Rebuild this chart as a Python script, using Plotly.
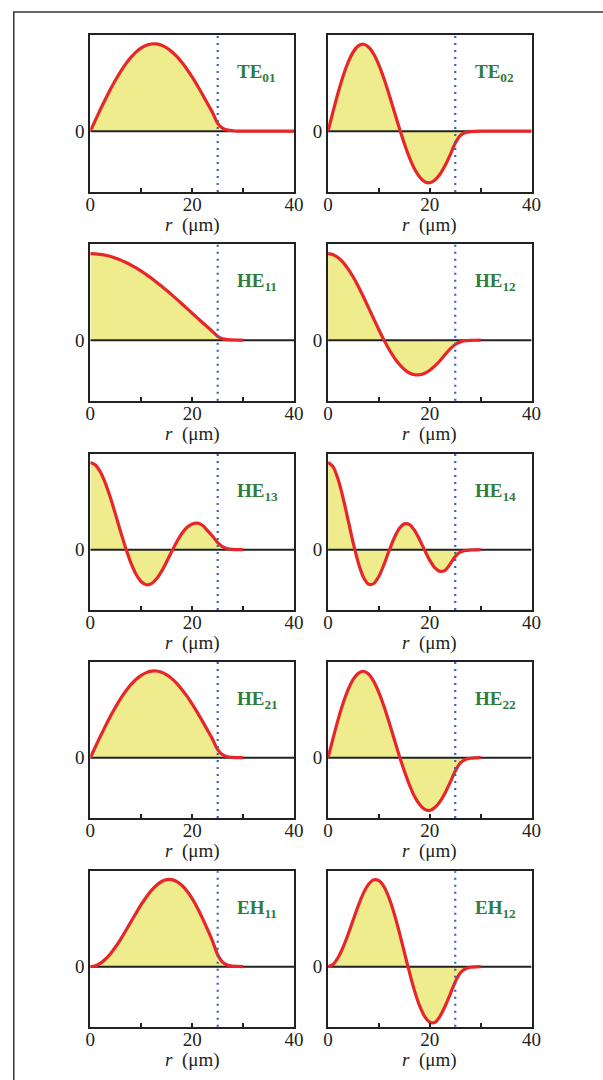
import plotly.graph_objects as go

# radial coordinate (µm)
r_long = [0, 1, 2, 3, 4, 5, 6, 7, 8, 9, 10, 11, 12, 13, 14, 15, 16, 17, 18, 19, 20,
          21, 22, 23, 24, 25, 26, 27, 28, 29, 30, 31, 32, 33, 34, 35, 36, 37, 38, 39, 40]
r_short = [0, 1, 2, 3, 4, 5, 6, 7, 8, 9, 10, 11, 12, 13, 14, 15, 16, 17, 18, 19, 20,
           21, 22, 23, 24, 25, 26, 27, 28, 29, 30]

mode_labels = ["TE<sub>01</sub>", "TE<sub>02</sub>", "HE<sub>11</sub>", "HE<sub>12</sub>",
               "HE<sub>13</sub>", "HE<sub>14</sub>", "HE<sub>21</sub>", "HE<sub>22</sub>",
               "EH<sub>11</sub>", "EH<sub>12</sub>"]

te01 = [0, 0.114, 0.227, 0.335, 0.438, 0.534, 0.622, 0.699, 0.766, 0.820, 0.861, 0.889, 0.902,
        0.903, 0.889, 0.862, 0.822, 0.771, 0.709, 0.638, 0.558, 0.472, 0.380, 0.286, 0.191,
        0.080, 0.028, 0.010, 0.004, 0.001, 0, 0, 0, 0, 0, 0, 0, 0, 0, 0, 0]
te02 = [0, 0.207, 0.403, 0.576, 0.719, 0.824, 0.884, 0.899, 0.868, 0.795, 0.683, 0.542, 0.379,
        0.206, 0.032, -0.131, -0.275, -0.393, -0.475, -0.524, -0.534, -0.506, -0.446, -0.357,
        -0.246, -0.125, -0.045, -0.015, -0.005, -0.002, 0, 0, 0, 0, 0, 0, 0, 0, 0, 0, 0]
he11 = [0.900, 0.898, 0.892, 0.883, 0.869, 0.852, 0.832, 0.807, 0.780, 0.751, 0.717, 0.682,
        0.644, 0.603, 0.560, 0.516, 0.471, 0.424, 0.376, 0.328, 0.280, 0.231, 0.183, 0.136,
        0.089, 0.040, 0.013, 0.005, 0.002, 0.001, 0]
he12 = [0.900, 0.889, 0.857, 0.806, 0.736, 0.651, 0.553, 0.446, 0.333, 0.219, 0.106, 0.000,
        -0.097, -0.181, -0.251, -0.305, -0.342, -0.360, -0.360, -0.344, -0.313, -0.268, -0.214,
        -0.151, -0.090, -0.045, -0.018, -0.006, -0.002, -0.001, 0]
he13 = [0.912, 0.886, 0.809, 0.688, 0.534, 0.359, 0.178, 0.007, -0.143, -0.259, -0.335, -0.366,
        -0.355, -0.304, -0.224, -0.124, -0.017, 0.086, 0.172, 0.235, 0.269, 0.278, 0.255, 0.200,
        0.140, 0.075, 0.030, 0.010, 0.004, 0.001, 0]
he14 = [0.912, 0.865, 0.731, 0.532, 0.295, 0.058, -0.146, -0.292, -0.361, -0.353, -0.277,
        -0.154, -0.011, 0.122, 0.222, 0.270, 0.262, 0.202, 0.105, -0.007, -0.112, -0.190, -0.226,
        -0.215, -0.150, -0.070, -0.025, -0.008, -0.003, -0.001, 0]
he21 = [0, 0.114, 0.227, 0.335, 0.438, 0.534, 0.622, 0.699, 0.766, 0.820, 0.861, 0.889, 0.904,
        0.906, 0.893, 0.866, 0.826, 0.774, 0.711, 0.640, 0.560, 0.474, 0.382, 0.288, 0.192,
        0.085, 0.030, 0.010, 0.004, 0.001, 0]
he22 = [0, 0.207, 0.403, 0.576, 0.719, 0.824, 0.884, 0.903, 0.872, 0.795, 0.680, 0.535, 0.370,
        0.195, 0.020, -0.140, -0.285, -0.405, -0.489, -0.540, -0.552, -0.521, -0.459, -0.368,
        -0.258, -0.140, -0.055, -0.018, -0.006, -0.002, 0]
eh11 = [0, 0.009, 0.036, 0.080, 0.139, 0.211, 0.292, 0.381, 0.473, 0.564, 0.652, 0.731, 0.800,
        0.854, 0.893, 0.912, 0.912, 0.892, 0.851, 0.791, 0.713, 0.618, 0.509, 0.390, 0.266,
        0.125, 0.045, 0.015, 0.006, 0.002, 0]
eh12 = [0, 0.025, 0.098, 0.209, 0.348, 0.500, 0.648, 0.776, 0.867, 0.911, 0.901, 0.838, 0.719,
        0.556, 0.361, 0.150, -0.060, -0.254, -0.412, -0.524, -0.582, -0.585, -0.519, -0.415,
        -0.290, -0.160, -0.065, -0.022, -0.007, -0.002, 0]

core_radius = 25
x_ticks = [0, 20, 40]
x_ticktext = ["0", "20", "40"]
x_title = "<i>r</i>  (μm)"

panels = [(r_long, te01), (r_long, te02), (r_short, he11), (r_short, he12),
          (r_short, he13), (r_short, he14), (r_short, he21), (r_short, he22),
          (r_short, eh11), (r_short, eh12)]

# layout geometry (pixels)
W, H = 603, 1080
col_px = [(87.5, 296.5), (331.3, 540.0)]
row_px = [(34.5, 192.0), (244.0, 400.7), (454.0, 610.0), (662.0, 818.0), (871.3, 1026.7)]

FONT = "Liberation Serif, Times New Roman, serif"
RED = "#e8262a"
FILL = "#eeec8c"
GREEN = "#2e7d3c"
BLUE = "#3a62b8"
DARK = "#222222"

fig = go.Figure()
layout = dict(width=W, height=H, margin=dict(l=0, r=0, t=0, b=0),
              paper_bgcolor="white", plot_bgcolor="white", showlegend=False,
              font=dict(family=FONT, size=19, color=DARK))
shapes = []
annotations = []

for i, (rr, vals) in enumerate(panels):
    row, col = divmod(i, 2)
    n = i + 1
    xa = "x" if n == 1 else f"x{n}"
    ya = "y" if n == 1 else f"y{n}"
    xkey = "xaxis" if n == 1 else f"xaxis{n}"
    ykey = "yaxis" if n == 1 else f"yaxis{n}"
    x0, x1 = col_px[col]
    top, bot = row_px[row]
    layout[xkey] = dict(domain=[x0 / W, x1 / W], anchor=ya, range=[0, 40],
                        showgrid=False, zeroline=False, showline=True, mirror=True,
                        linecolor=DARK, linewidth=2, ticks="inside", ticklen=4,
                        tickwidth=2, tickcolor=DARK, tickvals=x_ticks,
                        ticktext=x_ticktext, ticklabelstandoff=-6,
                        minor=dict(ticks="inside", ticklen=4, tickwidth=2, tickcolor=DARK,
                                   tick0=0, dtick=10, showgrid=False),
                        tickfont=dict(family=FONT, size=19, color=DARK))
    layout[ykey] = dict(domain=[1 - bot / H, 1 - top / H], anchor=xa, range=[-0.63, 1.0],
                        showgrid=False, zeroline=False, showline=True, mirror=True,
                        linecolor=DARK, linewidth=2, ticks="", tickvals=[0],
                        ticktext=["0"], tickfont=dict(family=FONT, size=19, color=DARK))
    # yellow fill
    fig.add_trace(go.Scatter(x=rr, y=vals, xaxis=xa, yaxis=ya, mode="lines",
                             line=dict(width=0, shape="spline", smoothing=0.8),
                             fill="tozeroy", fillcolor=FILL, hoverinfo="skip"))
    # zero reference line
    fig.add_trace(go.Scatter(x=[0, 40], y=[0, 0], xaxis=xa, yaxis=ya, mode="lines",
                             line=dict(color=DARK, width=2), hoverinfo="skip"))
    # field curve
    fig.add_trace(go.Scatter(x=rr, y=vals, xaxis=xa, yaxis=ya, mode="lines",
                             line=dict(color=RED, width=3.2, shape="spline", smoothing=0.8)))
    # core boundary
    shapes.append(dict(type="line", xref=xa, yref=f"{ya} domain", x0=core_radius,
                       x1=core_radius, y0=0, y1=1, layer="above",
                       line=dict(color=BLUE, width=2.2, dash="2px,5px")))
    annotations.append(dict(xref=xa, yref=ya, x=28.4, y=0.6, xanchor="left",
                            yanchor="middle", showarrow=False,
                            text=f"<b>{mode_labels[i]}</b>",
                            font=dict(family=FONT, size=19, color=GREEN)))
    # x-axis title
    annotations.append(dict(xref=f"{xa} domain", yref=f"{ya} domain", x=0.5, y=0,
                            xanchor="center", yanchor="middle", yshift=-33,
                            showarrow=False, text=x_title,
                            font=dict(family=FONT, size=19, color=DARK)))

# outer frame of the figure
shapes.append(dict(type="rect", xref="paper", yref="paper", x0=9 / W, x1=1.05,
                   y0=-0.05, y1=1 - 12 / H, layer="above",
                   line=dict(color="#333333", width=1.5)))

layout["shapes"] = shapes
layout["annotations"] = annotations
fig.update_layout(**layout)
fig.write_html("out.html", config={"displayModeBar": False},
               post_script="document.body.style.margin='0';document.body.style.overflow='hidden';")
